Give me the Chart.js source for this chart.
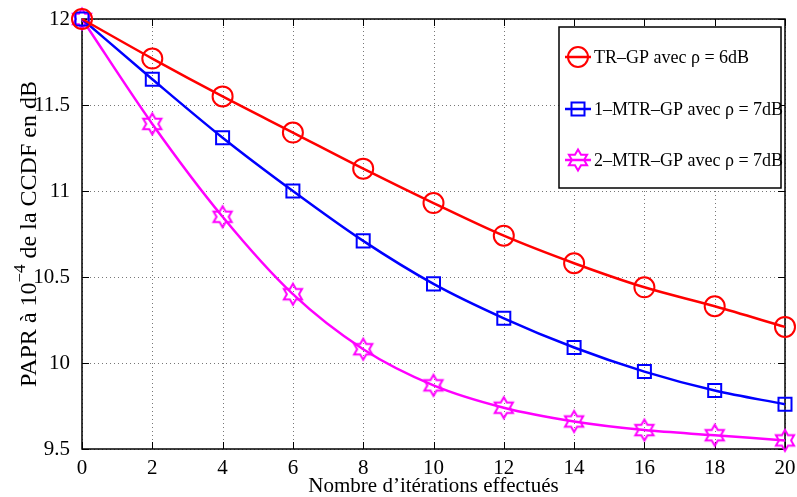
<!DOCTYPE html>
<html lang="fr">
<head>
  <meta charset="UTF-8" />
  <title>PAPR vs itérations</title>
  <script src="https://cdn.jsdelivr.net/npm/chart.js"></script>
  <style>
    html, body { margin: 0; padding: 0; background: #fff; }
    #wrap { width: 797px; height: 497px; }
  </style>
</head>
<body>
  <div id="wrap"><canvas id="chart"></canvas></div>

  <script>
    // Data
    const iterations = [0, 2, 4, 6, 8, 10, 12, 14, 16, 18, 20];
    const trGp   = [12.0, 11.77, 11.55, 11.34, 11.13, 10.93, 10.74, 10.58, 10.44, 10.33, 10.21];
    const mtr1Gp = [12.0, 11.65, 11.31, 11.00, 10.71, 10.46, 10.26, 10.09, 9.95, 9.84, 9.76];
    const mtr2Gp = [12.0, 11.39, 10.85, 10.40, 10.08, 9.87, 9.74, 9.66, 9.61, 9.58, 9.55];
    const seriesLabels = ['TR\u2013GP avec \u03c1 = 6dB', '1\u2013MTR\u2013GP avec \u03c1 = 7dB', '2\u2013MTR\u2013GP avec \u03c1 = 7dB'];
    const xTicks = [0, 2, 4, 6, 8, 10, 12, 14, 16, 18, 20];
    const yTicks = [9.5, 10, 10.5, 11, 11.5, 12];
    const xTitle = 'Nombre d\u2019it\u00e9rations effectu\u00e9s';

    const FONT = '"Liberation Serif", "Times New Roman", serif';
    const colors = ['#ff0000', '#0000ff', '#ff00ff'];
    const markers = ['circle', 'square', 'hexagram'];

    function hexPath(ctx, x, y, R) {
      const r = R / Math.sqrt(3);
      ctx.beginPath();
      for (let k = 0; k < 12; k++) {
        const a = -Math.PI / 2 + k * Math.PI / 6;
        const rr = k % 2 === 0 ? R : r;
        const px = x + rr * Math.cos(a), py = y + rr * Math.sin(a);
        k === 0 ? ctx.moveTo(px, py) : ctx.lineTo(px, py);
      }
      ctx.closePath();
    }

    function hexImage(color) {
      const c = document.createElement('canvas');
      c.width = 26; c.height = 26;
      const g = c.getContext('2d');
      g.strokeStyle = color; g.lineWidth = 2;
      hexPath(g, 13, 13, 10.5);
      g.stroke();
      return c;
    }

    function drawMarker(ctx, type, x, y, color) {
      ctx.save();
      ctx.strokeStyle = color; ctx.lineWidth = 2;
      if (type === 'circle') {
        ctx.beginPath(); ctx.arc(x, y, 10, 0, Math.PI * 2); ctx.stroke();
      } else if (type === 'square') {
        ctx.strokeRect(x - 6.5, y - 6.5, 13, 13);
      } else {
        hexPath(ctx, x, y, 10.5); ctx.stroke();
      }
      ctx.restore();
    }

    const pts = arr => iterations.map((v, i) => ({ x: v, y: arr[i] }));

    const frame = {
      id: 'frame',
      beforeDatasetsDraw(chart) {
        const { ctx, chartArea: a, scales } = chart;
        ctx.save();
        // dotted grid
        ctx.strokeStyle = '#777'; ctx.lineWidth = 1;
        ctx.setLineDash([1, 3]);
        ctx.beginPath();
        xTicks.forEach(t => {
          const x = Math.round(scales.x.getPixelForValue(t)) + 0.5;
          ctx.moveTo(x, a.top); ctx.lineTo(x, a.bottom);
        });
        yTicks.forEach(t => {
          const y = Math.round(scales.y.getPixelForValue(t)) + 0.5;
          ctx.moveTo(a.left, y); ctx.lineTo(a.right, y);
        });
        ctx.stroke();
        ctx.setLineDash([]);
        // box and inward ticks
        ctx.strokeStyle = '#000'; ctx.lineWidth = 1.5;
        ctx.strokeRect(a.left, a.top, a.right - a.left, a.bottom - a.top);
        ctx.lineWidth = 1;
        ctx.beginPath();
        xTicks.forEach(t => {
          const x = Math.round(scales.x.getPixelForValue(t)) + 0.5;
          ctx.moveTo(x, a.bottom); ctx.lineTo(x, a.bottom - 7);
          ctx.moveTo(x, a.top); ctx.lineTo(x, a.top + 7);
        });
        yTicks.forEach(t => {
          const y = Math.round(scales.y.getPixelForValue(t)) + 0.5;
          ctx.moveTo(a.left, y); ctx.lineTo(a.left + 7, y);
          ctx.moveTo(a.right, y); ctx.lineTo(a.right - 7, y);
        });
        ctx.stroke();
        ctx.restore();
      },
      afterDraw(chart) {
        const { ctx, chartArea: a } = chart;
        // x axis title
        ctx.save();
        ctx.fillStyle = '#000';
        ctx.font = '21px ' + FONT;
        ctx.textAlign = 'center';
        ctx.textBaseline = 'alphabetic';
        ctx.fillText(xTitle, (a.left + a.right) / 2, 492);
        ctx.restore();

        // y axis title with superscript
        ctx.save();
        ctx.translate(29, 234);
        ctx.rotate(-Math.PI / 2);
        ctx.fillStyle = '#000';
        ctx.textBaseline = 'alphabetic';
        const big = '24px ' + FONT, small = '17px ' + FONT;
        const parts = [['PAPR \u00e0 10', big, 0], ['\u22124', small, -11], [' de la CCDF en dB', big, 0]];
        let total = 0;
        parts.forEach(p => { ctx.font = p[1]; total += ctx.measureText(p[0]).width; });
        let x = -total / 2;
        parts.forEach(p => {
          ctx.font = p[1];
          ctx.fillText(p[0], x, 7 + p[2]);
          x += ctx.measureText(p[0]).width;
        });
        ctx.restore();

        // legend
        ctx.save();
        const lx = 559, ly = 27, lw = 222, lh = 161;
        ctx.fillStyle = '#fff';
        ctx.fillRect(lx, ly, lw, lh);
        ctx.strokeStyle = '#000'; ctx.lineWidth = 1.5;
        ctx.strokeRect(lx, ly, lw, lh);
        const rows = [57, 109, 160];
        ctx.font = '18px ' + FONT;
        ctx.textBaseline = 'middle';
        rows.forEach((ry, i) => {
          ctx.strokeStyle = colors[i]; ctx.lineWidth = 2.5;
          ctx.beginPath(); ctx.moveTo(565, ry); ctx.lineTo(591, ry); ctx.stroke();
          drawMarker(ctx, markers[i], 578, ry, colors[i]);
          ctx.fillStyle = '#000';
          ctx.fillText(seriesLabels[i], 594, ry + 1);
        });
        ctx.restore();
      }
    };

    const makeSet = (i, arr) => ({
      label: seriesLabels[i],
      data: pts(arr),
      borderColor: colors[i],
      backgroundColor: 'transparent',
      borderWidth: 2.5,
      cubicInterpolationMode: 'monotone',
      pointStyle: markers[i] === 'circle' ? 'circle' : markers[i] === 'square' ? 'rect' : hexImage(colors[i]),
      pointRadius: markers[i] === 'circle' ? 10 : 9.2,
      pointBorderWidth: 2,
      pointBorderColor: colors[i],
      pointBackgroundColor: 'transparent',
      clip: false
    });

    new Chart(document.getElementById('chart'), {
      type: 'line',
      data: {
        datasets: [makeSet(0, trGp), makeSet(1, mtr1Gp), makeSet(2, mtr2Gp)]
      },
      options: {
        responsive: true,
        maintainAspectRatio: false,
        animation: false,
        layout: { padding: { top: 19, right: 11, left: 0, bottom: 0 } },
        plugins: { legend: { display: false }, tooltip: { enabled: false } },
        scales: {
          x: {
            type: 'linear', min: 0, max: 20,
            afterFit(s) { s.height = 48; },
            afterBuildTicks(s) { s.ticks = xTicks.map(v => ({ value: v })); },
            grid: { display: false },
            border: { display: false },
            ticks: { color: '#000', padding: -1, maxRotation: 0, font: { family: FONT, size: 21 },
                     callback: v => String(v) }
          },
          y: {
            type: 'linear', min: 9.5, max: 12,
            afterFit(s) { s.width = 82; },
            afterBuildTicks(s) { s.ticks = yTicks.map(v => ({ value: v })); },
            grid: { display: false },
            border: { display: false },
            ticks: { color: '#000', padding: 4, font: { family: FONT, size: 21 },
                     callback: v => String(v) }
          }
        }
      },
      plugins: [frame]
    });
  </script>
</body>
</html>
